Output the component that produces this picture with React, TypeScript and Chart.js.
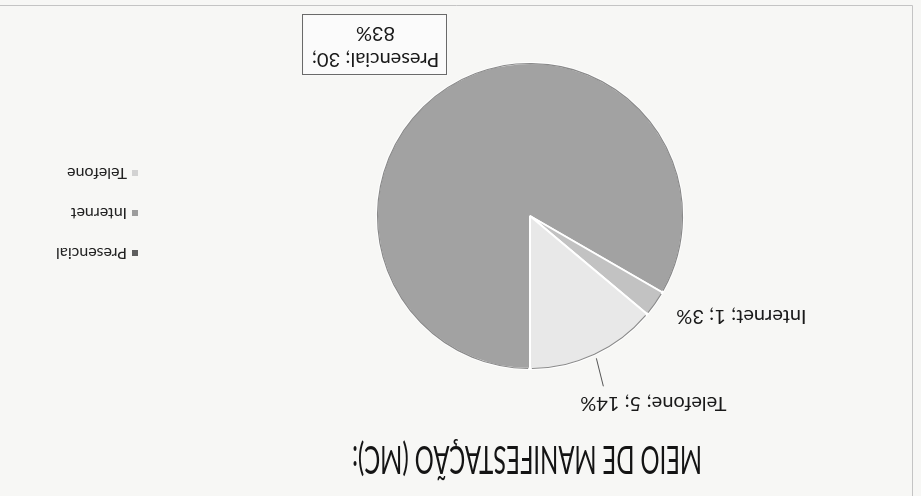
import React, { useEffect, useRef } from "react";
import { Chart, registerables } from "chart.js";

Chart.register(...registerables);

const categories = ["Presencial", "Internet", "Telefone"];
const values = [30, 1, 5];
const legendLabels = ["Presencial", "Internet", "Telefone"];
const chartTitle = "MEIO DE MANIFESTAÇÃO (MC):";
const sliceColors = ["#a2a2a2", "#c2c2c2", "#e8e8e8"];
const legendColors = ["#5e5e5e", "#9c9c9c", "#d2d2d2"];

const FONT = "Lato, 'Noto Sans', sans-serif";

function pct(i: number) {
  const total = values.reduce((a, b) => a + b, 0);
  return Math.round((values[i] / total) * 100) + "%";
}

const overlayPlugin = {
  id: "overlay",
  beforeDraw(chart: any) {
    const { ctx, width, height } = chart;
    ctx.save();
    ctx.fillStyle = "#f7f7f5";
    ctx.fillRect(0, 0, width, height);
    ctx.strokeStyle = "#c4c4c4";
    ctx.lineWidth = 1;
    ctx.beginPath();
    ctx.moveTo(8.5, 0);
    ctx.lineTo(8.5, height - 5.5);
    ctx.lineTo(width, height - 5.5);
    ctx.stroke();
    ctx.restore();
  },
  afterDatasetsDraw(chart: any) {
    const ctx = chart.ctx;
    const arcs = chart.getDatasetMeta(0).data;
    ctx.save();
    ctx.strokeStyle = "#8a8a8a";
    ctx.lineWidth = 1.2;
    arcs.forEach((a: any) => {
      ctx.beginPath();
      ctx.arc(a.x, a.y, a.outerRadius - 0.5, a.startAngle + 0.012, a.endAngle - 0.012);
      ctx.stroke();
    });
    ctx.restore();
  },
  afterDraw(chart: any) {
    const ctx = chart.ctx;
    const meta = chart.getDatasetMeta(0);
    const arcs = meta.data;
    const cx = arcs[0].x;

    // Title
    ctx.save();
    ctx.fillStyle = "#141414";
    ctx.font = "39px " + FONT;
    const tw = ctx.measureText(chartTitle).width;
    ctx.translate(cx + 3, 50);
    ctx.scale(350 / tw, 1);
    ctx.textAlign = "center";
    ctx.textBaseline = "alphabetic";
    ctx.fillText(chartTitle, 0, 0);
    ctx.restore();

    const edge = (i: number, extra = 0) => {
      const a = arcs[i];
      const mid = (a.startAngle + a.endAngle) / 2;
      const r = a.outerRadius + extra;
      return { x: a.x + Math.cos(mid) * r, y: a.y + Math.sin(mid) * r };
    };

    ctx.save();
    ctx.fillStyle = "#1a1a1a";
    ctx.font = "20px " + FONT;
    ctx.textBaseline = "middle";

    // Presencial label in a box
    {
      const e = edge(0);
      const bx = e.x + 78;
      const by = e.y + 38;
      const bw = 144;
      const bh = 60;
      ctx.fillStyle = "#fbfbfb";
      ctx.fillRect(bx - bw / 2, by - bh / 2, bw, bh);
      ctx.strokeStyle = "#6a6a6a";
      ctx.lineWidth = 1;
      ctx.strokeRect(Math.round(bx - bw / 2) + 0.5, Math.round(by - bh / 2) + 0.5, bw, bh);
      ctx.fillStyle = "#1a1a1a";
      ctx.textAlign = "center";
      ctx.fillText(categories[0] + "; " + values[0] + ";", bx, by - 14);
      ctx.fillText(pct(0), bx, by + 12);
    }

    // Internet label
    {
      const e = edge(1);
      ctx.textAlign = "right";
      ctx.fillText(categories[1] + "; " + values[1] + "; " + pct(1), e.x - 21, e.y - 13);
    }

    // Telefone label with leader line
    {
      const e = edge(2, 4);
      ctx.strokeStyle = "#555";
      ctx.lineWidth = 1;
      ctx.beginPath();
      ctx.moveTo(e.x, e.y);
      ctx.lineTo(e.x - 7, e.y - 28);
      ctx.stroke();
      ctx.textAlign = "center";
      ctx.fillText(categories[2] + "; " + values[2] + "; " + pct(2), e.x - 57, e.y - 45);
    }
    ctx.restore();

    // Legend
    ctx.save();
    ctx.font = "16px " + FONT;
    ctx.textBaseline = "middle";
    ctx.textAlign = "left";
    legendLabels.forEach((lab, i) => {
      const y = 243 + i * 40;
      ctx.fillStyle = legendColors[i];
      ctx.fillRect(783, y - 3, 6, 6);
      ctx.fillStyle = "#222";
      ctx.fillText(lab, 794, y);
    });
    ctx.restore();
  },
};

export default function App() {
  const ref = useRef<HTMLCanvasElement | null>(null);
  useEffect(() => {
    if (!ref.current) return;
    const chart = new Chart(ref.current, {
      type: "pie",
      data: {
        labels: categories,
        datasets: [
          {
            data: values,
            backgroundColor: sliceColors,
            borderColor: "#ffffff",
            borderWidth: 2,
          },
        ],
      },
      options: {
        responsive: false,
        animation: false,
        layout: { padding: { left: 237, right: 376, top: 126, bottom: 62 } },
        plugins: {
          legend: { display: false },
          title: { display: false },
          tooltip: { enabled: false },
        },
      },
      plugins: [overlayPlugin],
    });
    return () => chart.destroy();
  }, []);
  return (
    <div
      style={{
        position: "fixed",
        left: 0,
        top: 0,
        width: 921,
        height: 496,
        transform: "rotate(180deg)",
        transformOrigin: "50% 50%",
      }}
    >
      <canvas ref={ref} width={921} height={496} style={{ display: "block" }} />
    </div>
  );
}
